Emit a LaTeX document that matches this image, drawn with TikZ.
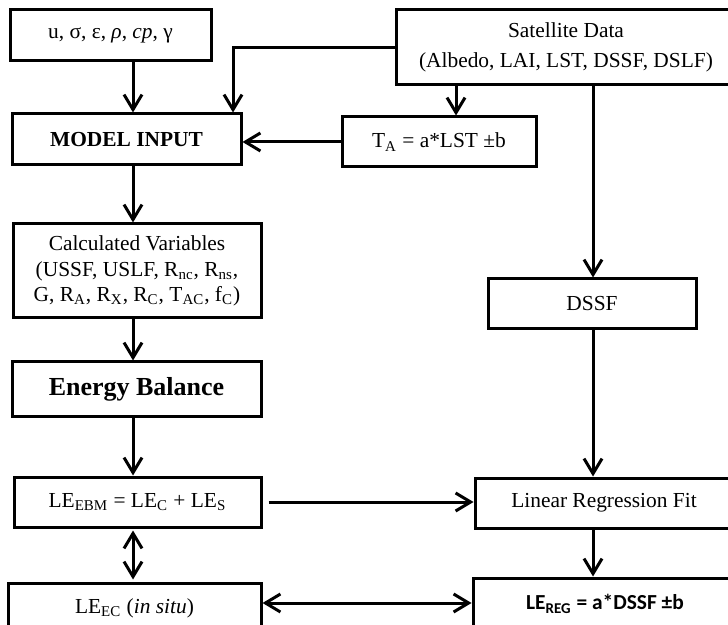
\documentclass[tikz,border=0pt]{standalone}
\usepackage{fontspec}
\setmainfont{Liberation Serif}
\newfontfamily\calibri{Carlito}
\usetikzlibrary{arrows.meta}
\newdimen\pxu
\pxu=0.5pt
\begin{document}
\begin{tikzpicture}[x=0.5pt,y=-0.5pt, line width=1.5pt,
  box/.style={draw, line width=1.5pt, inner sep=0pt, align=center, font=\fontsize{10.7}{12.75}\selectfont},
  arr/.style={-{Straight Barb[length=7.5pt,width=9pt]}},
  darr/.style={{Straight Barb[length=7.5pt,width=9pt]}-{Straight Barb[length=7.5pt,width=9pt]}}]
\useasboundingbox (0,0) rectangle (728,625);
\clip (0,0) rectangle (728,625);
% nodes
\node[box, minimum width=201\pxu, minimum height=51\pxu] (in1) at (110.5,35.5) {u, σ, ε, \textit{ρ}, \textit{cp}, γ};
\node[box, minimum width=229\pxu, minimum height=51\pxu] (model) at (126.5,139.5) {\textbf{MODEL INPUT}};
\node[box, minimum width=340\pxu, minimum height=75\pxu, font=\fontsize{10.7}{15}\selectfont] (sat) at (566,47.5) {Satellite Data\\(Albedo, LAI, LST, DSSF, DSLF)};
\node[box, minimum width=194\pxu, minimum height=50\pxu] (ta) at (439,142) {T\textsubscript{A} = a*LST ±b};
\node[box, minimum width=248\pxu, minimum height=94\pxu] (calc) at (137,271) {Calculated Variables\\(USSF, USLF, R\textsubscript{nc}, R\textsubscript{ns},\\G, R\textsubscript{A}, R\textsubscript{X}, R\textsubscript{C}, T\textsubscript{AC}, f\textsubscript{C})};
\node[box, minimum width=249\pxu, minimum height=55\pxu] (eb) at (136.5,389.5) {\fontsize{13}{15}\selectfont\bfseries Energy Balance};
\node[box, minimum width=247\pxu, minimum height=50\pxu] (ebm) at (137.5,502) {LE\textsubscript{EBM} = LE\textsubscript{C} + LE\textsubscript{S}};
\node[box, minimum width=253\pxu, minimum height=50\pxu] (ec) at (134.5,608) {LE\textsubscript{EC} (\textit{in situ})};
\node[box, minimum width=208\pxu, minimum height=50\pxu] (dssf) at (592,304) {DSSF};
\node[box, minimum width=258\pxu, minimum height=50\pxu] (lr) at (604,503) {Linear Regression Fit};
\node[box, minimum width=264\pxu, minimum height=52\pxu] (reg) at (605,604) {\calibri\bfseries LE\textsubscript{REG} = a*DSSF ±b};
% helper columns / rows
\coordinate (cA) at (133,0);
\coordinate (cB) at (233,0);
\coordinate (cC) at (456,0);
\coordinate (cD) at (593,0);
\coordinate (rE) at (0,603);
% connectors
\draw[arr] (in1.south -| cA) -- (model.north -| cA);
\draw[arr] (sat.west) -| (model.north -| cB);
\draw[arr] (sat.south -| cC) -- (ta.north -| cC);
\draw[arr] (ta.west) -- (ta.west -| model.east);
\draw[arr] (model.south -| cA) -- (calc.north -| cA);
\draw[arr] (calc.south -| cA) -- (eb.north -| cA);
\draw[arr] (eb.south -| cA) -- (ebm.north -| cA);
\draw[darr, shorten <=2\pxu, shorten >=2\pxu] (ebm.south -| cA) -- (ec.north -| cA);
\draw[arr] (sat.south -| cD) -- (dssf.north -| cD);
\draw[arr] (dssf.south -| cD) -- (lr.north -| cD);
\draw[arr, shorten <=6\pxu] (ebm.east) -- (ebm.east -| lr.west);
\draw[arr] (lr.south -| cD) -- (reg.north -| cD);
\draw[darr] (ec.east |- rE) -- (reg.west |- rE);
\end{tikzpicture}
\end{document}
